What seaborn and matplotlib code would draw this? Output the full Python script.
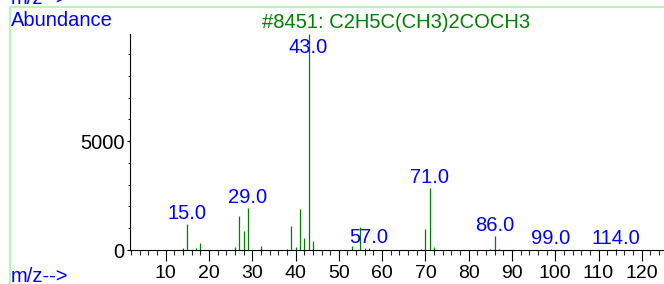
import numpy as np
import matplotlib
matplotlib.use("Agg")
import matplotlib.pyplot as plt
from matplotlib.lines import Line2D
from matplotlib.ticker import MultipleLocator
import seaborn as sns

# ---- data ----
mz = [14, 15, 17, 18, 26, 27, 28, 29, 32, 38, 39, 40, 41, 42, 43, 44, 45,
      51, 53, 55, 56, 57, 67, 69, 70, 71, 72, 85, 86, 87, 99, 114]
abundance = [100, 1190, 80, 335, 120, 1560, 885, 1910, 180, 50, 1100, 140,
             1870, 550, 9930, 400, 20, 20, 170, 1040, 100, 80, 20, 60, 950,
             2830, 120, 30, 630, 30, 30, 40]
label_mz = [15, 29, 43, 57, 71, 86, 99, 114]
title = "#8451: C2H5C(CH3)2COCH3"
y_ticks = [0, 5000]
x_ticks = [10, 20, 30, 40, 50, 60, 70, 80, 90, 100, 110, 120]

sns.set_style("white")
plt.rcParams["font.family"] = ["Liberation Sans", "DejaVu Sans"]
FS = 14.5

W, H = 664, 284
fig = plt.figure(figsize=(W / 100, H / 100), dpi=100)
ax = fig.add_axes([130 / W, 34 / H, 533 / W, 216 / H])

ax.vlines(mz, 0, abundance, color="#008000", lw=0.9)
ax.set_xlim(1.75, 124.9)
ax.set_ylim(0, 9930)

ab = dict(zip(mz, abundance))
for m in label_mz:
    yv = min(ab[m], 8800)
    ax.annotate(f"{m:.1f}", xy=(m, yv), xytext=(0, 4), textcoords="offset points",
                ha="center", va="baseline", color="#0000ff", fontsize=FS)

sns.despine(ax=ax, top=True, right=True)
for s in ("left", "bottom"):
    ax.spines[s].set_color("black")
    ax.spines[s].set_linewidth(0.8)

ax.set_xticks(x_ticks)
ax.set_yticks(y_ticks)
ax.xaxis.set_minor_locator(MultipleLocator(2))
ax.yaxis.set_minor_locator(MultipleLocator(1000))
ax.tick_params(axis="x", which="major", direction="out", length=8, width=0.8,
               pad=2.5, labelsize=14, colors="black", bottom=True)
ax.tick_params(axis="x", which="minor", direction="out", length=3.8, width=0.8,
               bottom=True)
ax.tick_params(axis="y", which="major", direction="out", length=2, width=0.8,
               pad=2, labelsize=FS, colors="black", left=True)
ax.tick_params(axis="y", which="minor", direction="out", length=1.3, width=0.8,
               left=True)
ax.set_xlabel("")
ax.set_ylabel("")

# figure-level texts
fig.text(395.7 / W, 1 - 28 / H, title, color="#008000", fontsize=FS,
         ha="center", va="baseline")
fig.text(10.5 / W, 1 - 26.5 / H, "Abundance", color="#0000ff", fontsize=FS,
         ha="left", va="baseline")
fig.text(10.5 / W, 1 - 282 / H, "m/z-->", color="#0000ff", fontsize=FS,
         ha="left", va="baseline")
fig.text(10.5 / W, 1 - 3.5 / H, "m/z-->", color="#0000ff", fontsize=FS,
         ha="left", va="baseline")

# light green frame
fig.add_artist(Line2D([9.5 / W, 9.5 / W], [0, 1 - 6.7 / H], color="#b8f5b8",
                      lw=1.5, transform=fig.transFigure))
fig.add_artist(Line2D([9.5 / W, 1], [1 - 6.7 / H, 1 - 6.7 / H], color="#b8f5b8",
                      lw=1.5, transform=fig.transFigure))

fig.savefig("out.png", dpi=100)
